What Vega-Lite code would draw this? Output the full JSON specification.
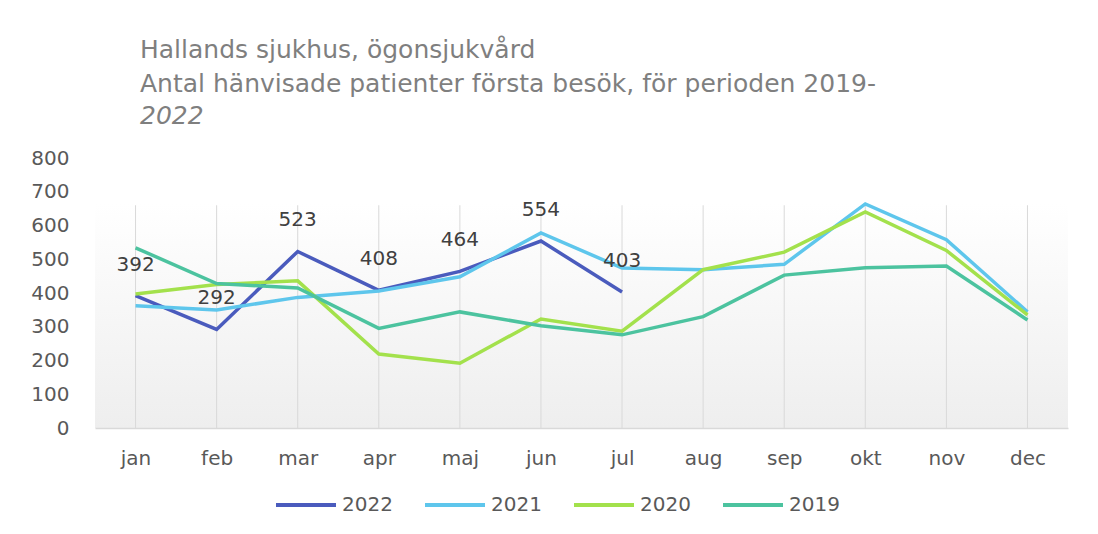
{
  "$schema": "https://vega.github.io/schema/vega-lite/v6.json",
  "autosize": "none",
  "width": 973,
  "height": 270,
  "padding": {"left": 95, "top": 158, "right": 30, "bottom": 106},
  "background": "#ffffff",
  "title": {
    "text": ["Hallands sjukhus, ögonsjukvård", "Antal hänvisade patienter första besök, för perioden 2019-"],
    "subtitle": "2022",
    "anchor": "start",
    "frame": "group",
    "dx": 45,
    "offset": 19,
    "font": "DejaVu Sans",
    "fontSize": 25,
    "fontWeight": "normal",
    "color": "#7f7f7f",
    "lineHeight": 34,
    "subtitleFont": "DejaVu Sans",
    "subtitleFontSize": 25,
    "subtitleFontStyle": "italic",
    "subtitleColor": "#7f7f7f",
    "subtitlePadding": 7
  },
  "data": {
    "values": [
      {"month": "jan", "year": "2022", "value": 392},
      {"month": "feb", "year": "2022", "value": 292},
      {"month": "mar", "year": "2022", "value": 523},
      {"month": "apr", "year": "2022", "value": 408},
      {"month": "maj", "year": "2022", "value": 464},
      {"month": "jun", "year": "2022", "value": 554},
      {"month": "jul", "year": "2022", "value": 403},
      {"month": "jan", "year": "2021", "value": 362},
      {"month": "feb", "year": "2021", "value": 350},
      {"month": "mar", "year": "2021", "value": 387},
      {"month": "apr", "year": "2021", "value": 406},
      {"month": "maj", "year": "2021", "value": 448},
      {"month": "jun", "year": "2021", "value": 578},
      {"month": "jul", "year": "2021", "value": 474},
      {"month": "aug", "year": "2021", "value": 469},
      {"month": "sep", "year": "2021", "value": 485},
      {"month": "okt", "year": "2021", "value": 664},
      {"month": "nov", "year": "2021", "value": 558},
      {"month": "dec", "year": "2021", "value": 344},
      {"month": "jan", "year": "2020", "value": 397},
      {"month": "feb", "year": "2020", "value": 425},
      {"month": "mar", "year": "2020", "value": 436},
      {"month": "apr", "year": "2020", "value": 219},
      {"month": "maj", "year": "2020", "value": 192},
      {"month": "jun", "year": "2020", "value": 323},
      {"month": "jul", "year": "2020", "value": 287},
      {"month": "aug", "year": "2020", "value": 469},
      {"month": "sep", "year": "2020", "value": 521},
      {"month": "okt", "year": "2020", "value": 640},
      {"month": "nov", "year": "2020", "value": 526},
      {"month": "dec", "year": "2020", "value": 335},
      {"month": "jan", "year": "2019", "value": 534},
      {"month": "feb", "year": "2019", "value": 428},
      {"month": "mar", "year": "2019", "value": 415},
      {"month": "apr", "year": "2019", "value": 295},
      {"month": "maj", "year": "2019", "value": 344},
      {"month": "jun", "year": "2019", "value": 303},
      {"month": "jul", "year": "2019", "value": 276},
      {"month": "aug", "year": "2019", "value": 330},
      {"month": "sep", "year": "2019", "value": 453},
      {"month": "okt", "year": "2019", "value": 475},
      {"month": "nov", "year": "2019", "value": 480},
      {"month": "dec", "year": "2019", "value": 320}
    ]
  },
  "encoding": {
    "x": {
      "field": "month",
      "type": "ordinal",
      "sort": ["jan", "feb", "mar", "apr", "maj", "jun", "jul", "aug", "sep", "okt", "nov", "dec"],
      "scale": {"type": "point", "padding": 0.5},
      "axis": {
        "title": null,
        "labelAngle": 0,
        "grid": false,
        "domainColor": "#d9d9d9",
        "domainWidth": 1.5,
        "ticks": false,
        "labelPadding": 20,
        "labelFont": "DejaVu Sans",
        "labelFontSize": 20,
        "labelColor": "#595959"
      }
    },
    "y": {
      "field": "value",
      "type": "quantitative",
      "scale": {"domain": [0, 800], "nice": false},
      "axis": {
        "title": null,
        "values": [0, 100, 200, 300, 400, 500, 600, 700, 800],
        "grid": false,
        "domain": false,
        "ticks": false,
        "labelPadding": 26,
        "labelFont": "DejaVu Sans",
        "labelFontSize": 20,
        "labelColor": "#595959"
      }
    }
  },
  "layer": [
    {
      "transform": [{"filter": "datum.year == '2021'"}],
      "mark": {"type": "rule", "color": "#d9d9d9", "strokeWidth": 1},
      "encoding": {
        "y": {"datum": 0},
        "y2": {"datum": 660}
      }
    },
    {
      "mark": {"type": "line", "strokeWidth": 3.5},
      "encoding": {
        "color": {
          "field": "year",
          "type": "nominal",
          "scale": {
            "domain": ["2022", "2021", "2020", "2019"],
            "range": ["#4a5bbd", "#5ec6ec", "#a3e14c", "#4cc39f"]
          },
          "legend": {
            "title": null,
            "orient": "none",
            "legendX": 179,
            "legendY": 315,
            "direction": "horizontal",
            "symbolType": "stroke",
            "symbolSize": 3600,
            "symbolStrokeWidth": 4,
            "labelFont": "DejaVu Sans",
            "labelFontSize": 20,
            "labelColor": "#595959",
            "labelOffset": 4,
            "columnPadding": 24
          }
        }
      }
    },
    {
      "transform": [{"filter": "datum.year == '2022'"}],
      "mark": {"type": "text", "dy": -31, "font": "DejaVu Sans", "fontSize": 20, "color": "#404040", "baseline": "middle"},
      "encoding": {"text": {"field": "value", "type": "quantitative"}}
    }
  ],
  "config": {
    "view": {
      "stroke": null,
      "fill": {
        "gradient": "linear", "x1": 0, "y1": 0, "x2": 0, "y2": 1,
        "stops": [
          {"offset": 0, "color": "#ffffff"},
          {"offset": 0.17, "color": "#ffffff"},
          {"offset": 1, "color": "#eeeeee"}
        ]
      }
    }
  }
}
